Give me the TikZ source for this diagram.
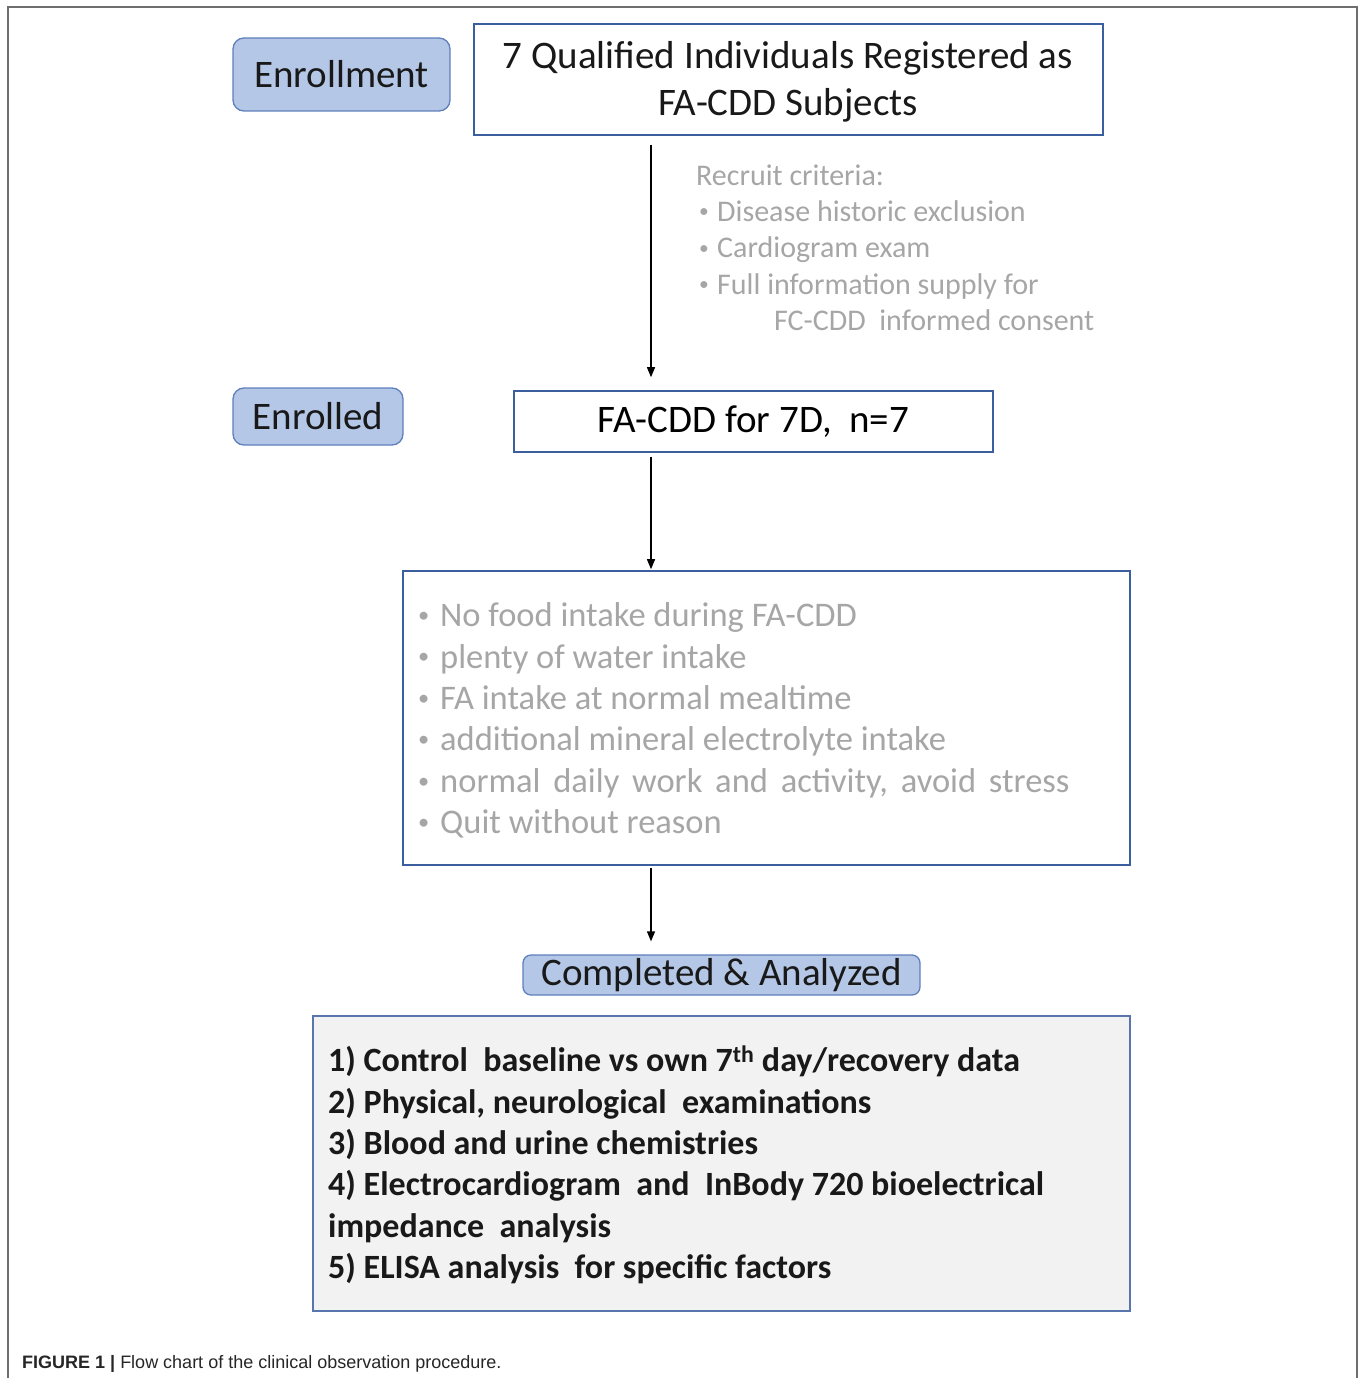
\documentclass[tikz,border=0pt]{standalone}
\usepackage{fontspec}
\usepackage{graphicx}
\setmainfont{Carlito}
\newfontfamily\capfont{Liberation Sans}
\usetikzlibrary{arrows.meta}
\definecolor{lblue}{HTML}{B4C7E7}
\definecolor{lborder}{HTML}{5F80BC}
\definecolor{dblue}{HTML}{3A5E9E}
\definecolor{gtext}{HTML}{A6A6A6}
\definecolor{boxgray}{HTML}{F2F2F2}
\definecolor{framegray}{HTML}{6E6E6E}
\tikzset{
  labelbox/.style={draw=lborder, fill=lblue, line width=1.3pt, rounded corners=11pt, inner sep=0pt, text=black!90},
  plainbox/.style={draw=dblue, fill=white, line width=1.6pt, inner sep=0pt},
  graybox/.style={draw=dblue!85, fill=boxgray, line width=1.6pt, inner sep=0pt},
  flow/.style={line width=1.3pt, -{Triangle[length=10pt,width=8pt]}},
  bigtxt/.style={font=\fontsize{39}{47}\selectfont},
  graytxt/.style={text=gtext, inner sep=0pt, align=left, anchor=west}
}
\newcommand{\bl}[1]{\makebox[#1][l]{\hspace*{1pt}\raisebox{0.12em}{\scalebox{0.65}{•}}}}
\newcommand{\ws}{\hspace*{5pt}}
\begin{document}
\begin{tikzpicture}[x=1pt,y=-1pt]
\useasboundingbox (0,0) rectangle (1360,1378);
% outer frame
\draw[framegray, line width=1.5pt] (8,1378) -- (8,7) -- (1357,7) -- (1357,1378);
% nodes
\node[labelbox, minimum width=217pt, minimum height=73pt, bigtxt] (enroll) at (341.5,74.5) {Enrollment};
\node[plainbox, minimum width=629pt, minimum height=111pt] (reg) at (788.5,79.5) {};
\node[bigtxt, align=center, inner sep=0pt, text=black!90] (regtxt) at (788,81.5) {7 Qualified Individuals Registered as\\FA-CDD Subjects};
\node[graytxt, font=\fontsize{30}{36.3}\selectfont] (crit) at (696,247.5) {Recruit criteria:\\
\hspace*{2pt}\bl{19pt}Disease historic exclusion\\
\hspace*{2pt}\bl{19pt}Cardiogram exam\\
\hspace*{2pt}\bl{19pt}Full information supply for\\
\hspace*{78pt}FC-CDD\ \ informed consent};
\node[labelbox, minimum width=170pt, minimum height=57pt, bigtxt] (enrolled) at (318,416.5) {Enrolled};
\node[plainbox, minimum width=479pt, minimum height=61pt, bigtxt] (fa) at (753.5,421.5) {FA-CDD for 7D,\ \ n=7};
\node[plainbox, minimum width=727pt, minimum height=294pt] (rules) at (766.5,718) {};
\node[graytxt, font=\fontsize{34.5}{41.4}\selectfont] (rulestxt) at (417,720.5) {\bl{23pt}No food intake during FA-CDD\\
\bl{23pt}plenty of water intake\\
\bl{23pt}FA intake at normal mealtime\\
\bl{23pt}additional mineral electrolyte intake\\
\bl{23pt}normal\ws{} daily\ws{} work\ws{} and\ws{} activity,\ws{} avoid\ws{} stress\\
\bl{23pt}Quit without reason};
\node[labelbox, rounded corners=8pt, minimum width=397pt, minimum height=40pt, bigtxt] (done) at (721.5,975) {Completed \& Analyzed};
\node[graybox, minimum width=817pt, minimum height=295pt] (anal) at (721.5,1163.5) {};
\node[anchor=west, inner sep=0pt, align=left, font=\bfseries\fontsize{34}{41.4}\selectfont, text=black!90] (analtxt) at (328,1165) {1) Control\ \ baseline vs own 7\textsuperscript{th} day/recovery data\\
2) Physical, neurological\ \ examinations\\
3) Blood and urine chemistries\\
4) Electrocardiogram\ \ and\ \ InBody 720 bioelectrical\\
impedance\ \ analysis\\
5) ELISA analysis\ \ for specific factors};
% caption
\node[anchor=base west, inner sep=0pt, font=\capfont\fontsize{18}{20}\selectfont, text=black!85] (cap) at (22,1368.5) {\textbf{FIGURE 1 |} Flow chart of the clinical observation procedure.};
% connectors
\coordinate (ax) at (651,0);
\draw[flow, shorten <=9pt, shorten >=13pt] (reg.south -| ax) -- (fa.north -| ax);
\draw[flow, shorten <=4pt, shorten >=1pt] (fa.south -| ax) -- (rules.north -| ax);
\draw[flow, shorten <=2pt, shorten >=13pt] (rules.south -| ax) -- (done.north -| ax);
\end{tikzpicture}
\end{document}
